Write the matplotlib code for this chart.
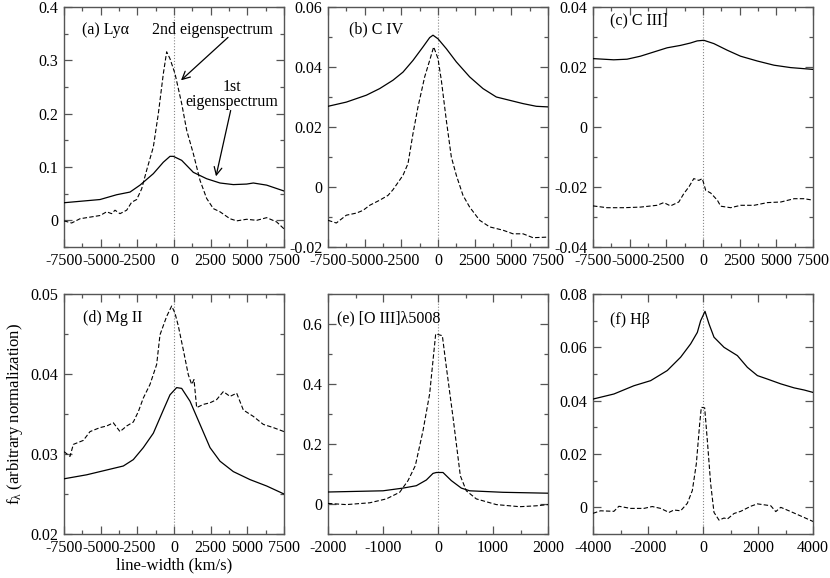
import matplotlib
matplotlib.use("Agg")
import matplotlib.pyplot as plt
from matplotlib.ticker import MultipleLocator

plt.rcParams["font.family"] = ["Liberation Serif", "DejaVu Serif"]
plt.rcParams["mathtext.fontset"] = "custom"
plt.rcParams["mathtext.rm"] = "Liberation Serif"
plt.rcParams["mathtext.it"] = "Liberation Serif"
plt.rcParams["axes.unicode_minus"] = False

# (a) Ly alpha
lya_x1 = [-7500, -5045, -3909, -3000, -2318, -1409, -727, -273, -45, 523, 1318, 2227, 3136, 4045, 4955, 5409, 6318, 7500]
lya_y1 = [0.033, 0.039, 0.048, 0.053, 0.066, 0.0875, 0.109, 0.12, 0.12, 0.1125, 0.09, 0.078, 0.07, 0.067, 0.068, 0.07, 0.066, 0.055]
lya_x2 = [-7500, -6977, -6409, -5727, -5045, -4591, -4250, -4023, -3682, -3227, -2886, -2545, -2205, -1864, -1409,
          -1068, -727, -500, -273, 68, 523, 864, 1318, 1773, 2227, 2682, 3136, 3818, 4273, 4955, 5636, 6318, 7000, 7500]
lya_y2 = [-0.001, -0.005, 0.003, 0.006, 0.009, 0.016, 0.0125, 0.019, 0.0125, 0.019, 0.034, 0.039, 0.059, 0.094, 0.1375,
          0.2, 0.275, 0.316, 0.303, 0.275, 0.219, 0.169, 0.125, 0.075, 0.041, 0.022, 0.016, 0.003, -0.001, 0.002, 0.0, 0.005, -0.003, -0.016]

# (b) C IV
civ_x1 = [-7500, -6250, -4886, -3977, -3068, -2386, -1705, -1023, -568, -341, 0, 568, 1250, 2159, 3068, 3977, 4886, 5795, 6705, 7500]
civ_y1 = [0.0269, 0.0283, 0.0306, 0.0328, 0.0356, 0.0383, 0.0422, 0.0467, 0.0498, 0.0506, 0.0494, 0.0461, 0.0417, 0.0367,
          0.0328, 0.030, 0.0289, 0.0278, 0.0269, 0.0267]
civ_x2 = [-7500, -6932, -6250, -5568, -5114, -4659, -3977, -3409, -3068, -2386, -2045, -1705, -1364, -909, -568, -295,
          0, 227, 568, 909, 1250, 1705, 2159, 2841, 3523, 4432, 5114, 5795, 6477, 7500]
civ_y2 = [-0.0111, -0.012, -0.0094, -0.0087, -0.0078, -0.0061, -0.0044, -0.0028, -0.0009, 0.0039, 0.0078, 0.0178, 0.0267,
          0.0367, 0.0422, 0.0467, 0.0428, 0.0356, 0.0222, 0.010, 0.0039, -0.0028, -0.0067, -0.0111, -0.0133, -0.0144,
          -0.0156, -0.0156, -0.0169, -0.0167]

# (c) C III]
ciii_x1 = [-7500, -6088, -5177, -4268, -3357, -2446, -1536, -853, -398, 57, 740, 1650, 2560, 3700, 4840, 5978, 7500]
ciii_y1 = [0.0228, 0.0224, 0.0226, 0.0236, 0.025, 0.0264, 0.0272, 0.028, 0.0287, 0.0289, 0.0278, 0.0256, 0.0236, 0.022,
           0.0206, 0.0198, 0.0192]
ciii_x2 = [-7500, -6544, -5405, -4268, -3130, -2674, -2218, -1650, -1308, -967, -626, -285, -45, 182, 523, 979, 1206,
           1889, 2571, 3484, 4394, 5306, 6215, 6898, 7500]
ciii_y2 = [-0.0263, -0.0269, -0.0269, -0.0267, -0.0261, -0.0252, -0.0263, -0.025, -0.0222, -0.020, -0.0172, -0.0178,
           -0.0172, -0.0211, -0.022, -0.0244, -0.0264, -0.0269, -0.0261, -0.0261, -0.0252, -0.025, -0.0239, -0.0239, -0.0244]

# (d) Mg II
mgii_x1 = [-7500, -5955, -4591, -3455, -2773, -2091, -1409, -727, -273, 182, 523, 1091, 1773, 2455, 3136, 4045, 5182, 6318, 7500]
mgii_y1 = [0.0269, 0.0274, 0.028, 0.0285, 0.0293, 0.0308, 0.0326, 0.0355, 0.0374, 0.0383, 0.0382, 0.0366, 0.0337, 0.0308,
           0.0291, 0.0278, 0.0268, 0.026, 0.025]
mgii_x2 = [-7500, -7091, -6864, -6182, -5727, -5045, -4591, -4136, -3682, -3227, -2773, -2432, -2091, -1636, -1182, -955,
           -500, -159, 68, 295, 636, 977, 1205, 1364, 1545, 2000, 2455, 2909, 3364, 3818, 4273, 4727, 5409, 6091, 6773, 7500]
mgii_y2 = [0.0303, 0.0297, 0.0312, 0.0317, 0.0328, 0.0333, 0.0335, 0.0339, 0.0328, 0.0335, 0.034, 0.0353, 0.037, 0.0387,
           0.0412, 0.0449, 0.0472, 0.0485, 0.0476, 0.046, 0.043, 0.0399, 0.0387, 0.0393, 0.0358, 0.0362, 0.0364, 0.0368,
           0.0378, 0.0372, 0.0376, 0.0355, 0.0347, 0.0337, 0.0333, 0.0328]

# (e) [O III] 5008
oiii_x1 = [-2000, -1000, -636, -394, -212, -91, -30, 60, 91, 242, 424, 576, 1182, 2000]
oiii_y1 = [0.04, 0.044, 0.053, 0.061, 0.08, 0.102, 0.105, 0.105, 0.105, 0.078, 0.053, 0.044, 0.039, 0.036]
oiii_x2 = [-2000, -1667, -1242, -939, -697, -545, -412, -273, -152, -79, -42, 79, 152, 273, 406, 515, 697, 1061, 1485, 1788, 2000]
oiii_y2 = [0.002, -0.002, 0.004, 0.017, 0.039, 0.078, 0.128, 0.244, 0.367, 0.5, 0.567, 0.561, 0.456, 0.289, 0.094,
           0.044, 0.017, -0.002, -0.009, -0.006, -0.002]

# (f) H beta
hb_x1 = [-4000, -3240, -2512, -1905, -1299, -813, -449, -206, -85, 73, 218, 400, 765, 1250, 1614, 1978, 2342, 2828, 3313, 3677, 4000]
hb_y1 = [0.0406, 0.0425, 0.0456, 0.0475, 0.0513, 0.0563, 0.0613, 0.0656, 0.070, 0.0735, 0.0688, 0.0638, 0.060, 0.0569,
         0.0525, 0.0494, 0.0481, 0.0463, 0.0448, 0.044, 0.0431]
hb_x2 = [-4000, -3725, -3240, -3058, -2634, -2149, -1845, -1541, -1238, -1056, -813, -570, -388, -243, -121, -61, 61, 158,
         279, 400, 583, 765, 886, 1129, 1371, 1735, 1978, 2463, 2646, 2828, 3192, 3677, 4000]
hb_y2 = [-0.00225, -0.0013, -0.0015, 0.0004, -0.0004, -0.0004, 0.0003, -0.0004, -0.0019, -0.001, -0.0013, 0.0015, 0.0063,
         0.0163, 0.0313, 0.0375, 0.0373, 0.025, 0.0088, -0.0019, -0.0048, -0.004, -0.0044, -0.0023, -0.0015, 0.0004,
         0.0013, 0.0006, -0.0016, 0.0, -0.0016, -0.0038, -0.0053]

panels = [
    ("(a) Ly\u03b1", lya_x1, lya_y1, lya_x2, lya_y2, (-7500, 7500), (-0.05, 0.4), 2500, 1250, 0.1, 0.05, (0.082, 0.905)),
    ("(b) C IV", civ_x1, civ_y1, civ_x2, civ_y2, (-7500, 7500), (-0.02, 0.06), 2500, 1250, 0.02, 0.01, (0.095, 0.905)),
    ("(c) C III]", ciii_x1, ciii_y1, ciii_x2, ciii_y2, (-7500, 7500), (-0.04, 0.04), 2500, 1250, 0.02, 0.01, (0.078, 0.945)),
    ("(d) Mg II", mgii_x1, mgii_y1, mgii_x2, mgii_y2, (-7500, 7500), (0.02, 0.05), 2500, 1250, 0.01, 0.005, (0.086, 0.9)),
    ("(e) [O III]\u03bb5008", oiii_x1, oiii_y1, oiii_x2, oiii_y2, (-2000, 2000), (-0.1, 0.7), 1000, 500, 0.2, 0.1, (0.04, 0.9)),
    ("(f) H\u03b2", hb_x1, hb_y1, hb_x2, hb_y2, (-4000, 4000), (-0.01, 0.08), 2000, 1000, 0.02, 0.01, (0.078, 0.89)),
]

W, H = 830, 578
lefts = [64, 328, 593]
tops = [7, 294]
aw, ah = 220, 240

fig = plt.figure(figsize=(W / 100, H / 100), dpi=100)
axes = []
for i, p in enumerate(panels):
    row, col = divmod(i, 3)
    ax = fig.add_axes([lefts[col] / W, 1 - (tops[row] + ah) / H, aw / W, ah / H])
    label, x1, y1, x2, y2, xl, yl, xmaj, xmin, ymaj, ymin, lpos = p
    ax.axvline(0, color="#888888", lw=0.8, ls=":", zorder=1)
    ax.plot(x1, y1, color="black", lw=0.9, zorder=3)
    ax.plot(x2, y2, color="black", lw=0.8, ls=(0, (4, 2)), zorder=3)
    ax.set_xlim(*xl)
    ax.set_ylim(*yl)
    ax.xaxis.set_major_locator(MultipleLocator(xmaj))
    ax.xaxis.set_minor_locator(MultipleLocator(xmin))
    ax.yaxis.set_major_locator(MultipleLocator(ymaj))
    ax.yaxis.set_minor_locator(MultipleLocator(ymin))
    ax.tick_params(which="both", direction="in", top=True, right=True, colors="#555555", labelcolor="black",
                   labelsize=11.5, width=0.9)
    ax.tick_params(which="major", length=6, pad=4)
    ax.tick_params(which="minor", length=3)
    for s in ax.spines.values():
        s.set_color("#555555")
        s.set_linewidth(1.0)
    ax.xaxis.set_major_formatter(plt.FuncFormatter(lambda v, pos: "%d" % round(v)))
    ax.yaxis.set_major_formatter(plt.FuncFormatter(lambda v, pos: "0" if abs(v) < 1e-9 else ("%g" % v)))
    ax.text(lpos[0], lpos[1], label, transform=ax.transAxes, fontsize=11.5, va="center", ha="left")
    axes.append(ax)

# annotations in panel (a)
ax = axes[0]
arrow = dict(arrowstyle="->", color="black", lw=0.9, shrinkA=0, shrinkB=0, mutation_scale=14)
ax.text(2650, 0.356, "2nd eigenspectrum", fontsize=11.5, ha="center", va="center")
ax.annotate("", xy=(477, 0.2625), xytext=(3682, 0.343), arrowprops=arrow)
ax.text(3950, 0.236, "1st\neigenspectrum", fontsize=11.5, ha="center", va="center", linespacing=0.9)
ax.annotate("", xy=(2864, 0.0825), xytext=(3864, 0.206), arrowprops=arrow)

axes[3].set_ylabel("f$_\\lambda$ (arbitrary normalization)", fontsize=12, labelpad=4)
axes[3].set_xlabel("line-width (km/s)", fontsize=12, labelpad=1)

fig.savefig("out.png", dpi=100)
